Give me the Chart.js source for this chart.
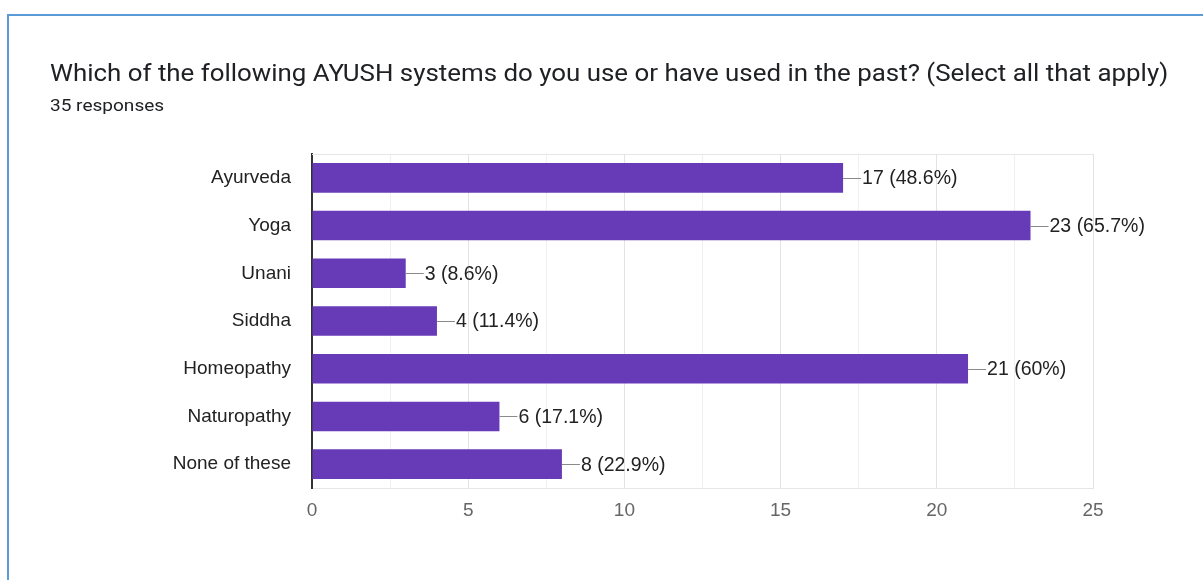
<!DOCTYPE html>
<html>
<head>
<meta charset="utf-8">
<script src="https://cdn.jsdelivr.net/npm/chart.js@4.4.1/dist/chart.umd.min.js"></script>
<style>
  html, body { margin: 0; padding: 0; background: #fff; }
  #wrap { position: relative; width: 1203px; height: 580px; overflow: hidden; }
  #card { position: absolute; left: 7px; top: 14px; width: 1300px; height: 700px;
          border-top: 2px solid #5b9bd8; border-left: 2px solid #5b9bd8; box-sizing: border-box; }
  #title { position: absolute; left: 50px; top: 60px; font-family: Roboto, sans-serif;
           font-size: 23px; color: #202124; white-space: nowrap;
           transform: scaleX(1.125); transform-origin: left top; }
  #sub { position: absolute; left: 50px; top: 95px; font-family: Roboto, sans-serif;
         font-size: 17px; color: #202124; white-space: nowrap;
         transform: scaleX(1.12); transform-origin: left top; }
  #chart { position: absolute; left: 0; top: 0; }
</style>
</head>
<body>
<div id="wrap">
  <div id="card"></div>
  <canvas id="chart" width="1203" height="580"></canvas>
  <div id="title">Which of the following AYUSH systems do you use or have used in the past? (Select all that apply)</div>
  <div id="sub">35 responses</div>
</div>
<script>
// answers and counts
var systems = ['Ayurveda', 'Yoga', 'Unani', 'Siddha', 'Homeopathy', 'Naturopathy', 'None of these'];
var counts = [17, 23, 3, 4, 21, 6, 8];
var percents = ['48.6', '65.7', '8.6', '11.4', '60', '17.1', '22.9'];
var xTicks = [0, 5, 10, 15, 20, 25];

var labelFont = '"Liberation Sans", Arial, sans-serif';

// light line across the top of the plot area
var topLine = {
  id: 'topLine',
  beforeDatasetsDraw: function(chart){
    var a = chart.chartArea, ctx = chart.ctx;
    ctx.save();
    ctx.strokeStyle = '#e6e6e6';
    ctx.lineWidth = 1;
    ctx.beginPath();
    ctx.moveTo(a.left, a.top + 0.5);
    ctx.lineTo(a.right, a.top + 0.5);
    ctx.stroke();
    ctx.restore();
  }
};

// leader line and "n (p%)" after each bar
var valueLabels = {
  id: 'valueLabels',
  afterDatasetsDraw: function(chart){
    var ctx = chart.ctx;
    var bars = chart.getDatasetMeta(0).data;
    ctx.save();
    ctx.font = '19.5px ' + labelFont;
    ctx.textBaseline = 'middle';
    bars.forEach(function(bar, i){
      var y = Math.round(bar.y) + 0.5;
      ctx.strokeStyle = '#8a8a8a';
      ctx.lineWidth = 1;
      ctx.beginPath();
      ctx.moveTo(bar.x, y);
      ctx.lineTo(bar.x + 18, y);
      ctx.stroke();
      ctx.fillStyle = '#222';
      ctx.fillText(counts[i] + ' (' + percents[i] + '%)', bar.x + 19, bar.y + 1);
    });
    ctx.restore();
  }
};

var ctx = document.getElementById('chart');
new Chart(ctx, {
  type: 'bar',
  data: {
    labels: systems,
    datasets: [{
      data: counts,
      backgroundColor: '#673ab7',
      borderWidth: 0,
      categoryPercentage: 1,
      barPercentage: 0.62
    }]
  },
  options: {
    indexAxis: 'y',
    responsive: false,
    animation: false,
    events: [],
    layout: { padding: { top: 154, right: 110, bottom: 0, left: 0 } },
    plugins: { legend: { display: false }, tooltip: { enabled: false } },
    scales: {
      x: {
        min: 0,
        max: 25,
        afterBuildTicks: function(scale){
          // gridlines every 2.5, labels only on the listed ticks
          var t = [];
          for (var k = 0; k <= 10; k++) t.push({ value: k * 2.5 });
          scale.ticks = t;
        },
        afterFit: function(scale){ scale.height = 92; },
        grid: {
          drawTicks: false,
          color: function(c){
            return xTicks.indexOf(c.tick && c.tick.value) >= 0 ? '#e3e3e3' : '#f0f0f0';
          }
        },
        border: { color: '#e6e6e6', width: 1 },
        ticks: {
          padding: 11,
          color: '#666',
          font: { family: labelFont, size: 19 },
          callback: function(v){ return xTicks.indexOf(v) >= 0 ? String(v) : ''; }
        }
      },
      y: {
        afterFit: function(scale){ scale.width = 312; },
        grid: { display: false, drawTicks: false },
        border: { color: '#333', width: 2 },
        ticks: {
          padding: 21,
          color: '#222',
          font: { family: labelFont, size: 19 }
        }
      }
    }
  },
  plugins: [topLine, valueLabels]
});
</script>
</body>
</html>
